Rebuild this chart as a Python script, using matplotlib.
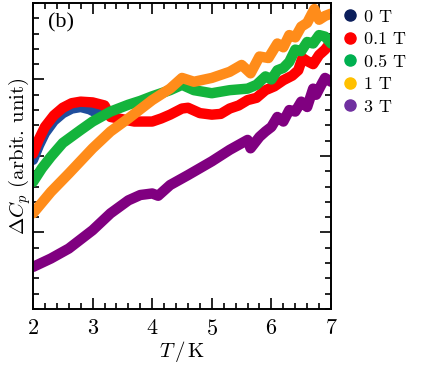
import matplotlib
matplotlib.use('Agg')
import matplotlib.pyplot as plt
from matplotlib.lines import Line2D

plt.rcParams['mathtext.fontset'] = 'cm'
plt.rcParams['font.family'] = ['cmr10', 'DejaVu Serif']
plt.rcParams['axes.formatter.use_mathtext'] = True

# curves (T in K, Delta Cp in arbitrary units)
t_0T = [2.0, 2.1, 2.2, 2.35, 2.5, 2.65, 2.8, 2.95, 3.1]
cp_0T = [1.95, 2.14, 2.3, 2.46, 2.56, 2.62, 2.64, 2.61, 2.55]

t_01T = [2.0, 2.1, 2.2, 2.35, 2.5, 2.65, 2.8, 3.0, 3.2, 3.3, 3.5, 3.7, 4.0, 4.15, 4.3,
         4.5, 4.6, 4.8, 5.0, 5.15, 5.3, 5.45, 5.6, 5.75, 5.9, 6.05, 6.2, 6.35, 6.45,
         6.52, 6.6, 6.7, 6.8, 6.9, 7.0]
cp_01T = [2.03, 2.22, 2.38, 2.53, 2.63, 2.69, 2.71, 2.7, 2.66, 2.51, 2.48, 2.45, 2.45,
          2.49, 2.54, 2.62, 2.63, 2.56, 2.54, 2.55, 2.62, 2.66, 2.73, 2.76, 2.86, 2.91,
          2.99, 3.05, 3.12, 3.28, 3.24, 3.2, 3.32, 3.39, 3.49]

t_05T = [2.0, 2.15, 2.3, 2.5, 2.8, 3.0, 3.3, 3.6, 3.8, 4.0, 4.3, 4.5, 4.7, 5.0, 5.3,
         5.6, 5.75, 5.9, 6.0, 6.1, 6.2, 6.3, 6.4, 6.5, 6.6, 6.7, 6.8, 6.9, 7.0]
cp_05T = [1.66, 1.84, 1.99, 2.17, 2.34, 2.45, 2.58, 2.67, 2.72, 2.78, 2.86, 2.93, 2.86,
          2.82, 2.86, 2.88, 2.93, 3.04, 3.0, 3.12, 3.15, 3.23, 3.39, 3.37, 3.49, 3.47,
          3.58, 3.56, 3.47]

t_1T = [2.0, 2.3, 2.6, 3.0, 3.3, 3.6, 4.0, 4.3, 4.5, 4.7, 5.0, 5.3, 5.5, 5.65, 5.8,
        5.95, 6.1, 6.2, 6.3, 6.4, 6.5, 6.6, 6.72, 6.8, 6.9, 7.0]
cp_1T = [1.25, 1.53, 1.77, 2.1, 2.32, 2.49, 2.73, 2.88, 3.02, 2.97, 3.02, 3.1, 3.19,
         3.08, 3.3, 3.28, 3.47, 3.42, 3.58, 3.55, 3.69, 3.74, 3.92, 3.78, 3.83, 3.86]

t_3T = [2.0, 2.3, 2.6, 3.0, 3.3, 3.6, 3.8, 4.0, 4.1, 4.3, 4.6, 5.0, 5.3, 5.6, 5.65,
        5.8, 5.9, 6.0, 6.1, 6.2, 6.3, 6.4, 6.5, 6.6, 6.7, 6.75, 6.85, 6.9, 7.0]
cp_3T = [0.55, 0.66, 0.79, 1.03, 1.25, 1.42, 1.49, 1.51, 1.48, 1.62, 1.75, 1.93, 2.08,
         2.21, 2.1, 2.25, 2.32, 2.38, 2.51, 2.45, 2.6, 2.58, 2.71, 2.64, 2.88, 2.8,
         2.95, 3.02, 2.97]

series = [
    (t_0T, cp_0T, '#1f4e9c', '#0b1e5b', '0 T'),
    (t_01T, cp_01T, '#ff0000', '#ff0000', '0.1 T'),
    (t_05T, cp_05T, '#14b43c', '#00b050', '0.5 T'),
    (t_1T, cp_1T, '#ff8c1a', '#ffc000', '1 T'),
    (t_3T, cp_3T, '#800080', '#7030a0', '3 T'),
]

fig = plt.figure(figsize=(4.22, 3.67), dpi=100)
ax = fig.add_axes([0.0782, 0.158, 0.7062, 0.834])

# stacking as in the picture: 3 T at the bottom, 1 T on top
order = [4, 0, 1, 2, 3]
for i in order:
    t, cp, c, _, _ = series[i]
    ax.plot(t, cp, color=c, lw=7.5, solid_capstyle='round', solid_joinstyle='round')

ax.set_xlim(2, 7)
ax.set_ylim(0, 4)
ax.set_xticks([2, 3, 4, 5, 6, 7])
ax.set_xticks([2 + 0.2 * k for k in range(26)], minor=True)
ax.set_yticks([1, 2, 3])
ax.set_yticks([0.2 * k for k in range(21)], minor=True)
ax.set_yticklabels([])
ax.tick_params(which='both', direction='in', top=True, right=True, width=1.2)
ax.tick_params(which='major', length=8, labelsize=16, pad=7)
ax.tick_params(which='minor', length=4)
for s in ax.spines.values():
    s.set_linewidth(1.4)

ax.set_xlabel(r'$T\,/\,\mathrm{K}$', fontsize=15, labelpad=0)
ax.set_ylabel(r'$\Delta C_p$ (arbit. unit)', fontsize=15, va='center')
ax.yaxis.set_label_coords(-0.045, 0.5)

ax.text(0.05, 0.965, '(b)', transform=ax.transAxes, fontsize=16,
        family='Liberation Serif', va='top', ha='left')

handles = [Line2D([], [], ls='none', marker='o', ms=8, color=lc)
           for _, _, _, lc, _ in series]
labels = [lab for _, _, _, _, lab in series]
fig.legend(handles, labels, loc='upper left', bbox_to_anchor=(0.79, 0.995),
           frameon=False, fontsize=13, handletextpad=0.3, labelspacing=0.38,
           handlelength=1.0, borderaxespad=0)

fig.savefig('out.png', dpi=100)
